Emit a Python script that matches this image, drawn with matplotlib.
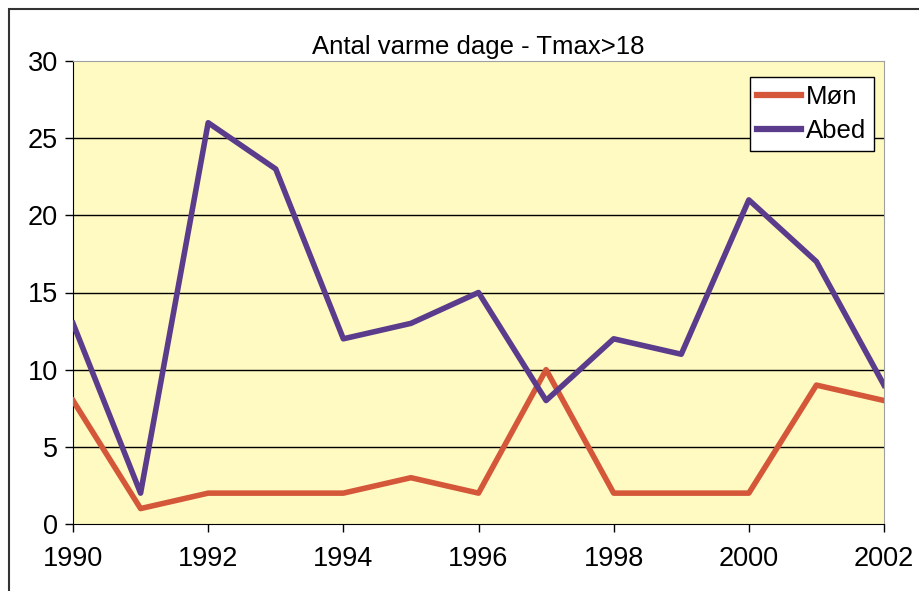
import matplotlib
matplotlib.use("Agg")
import matplotlib.pyplot as plt
from matplotlib.patches import Rectangle

plt.rcParams['font.family'] = ['Liberation Sans', 'DejaVu Sans']

# data
years = [1990, 1991, 1992, 1993, 1994, 1995, 1996, 1997, 1998, 1999, 2000, 2001, 2002]
moen = [8, 1, 2, 2, 2, 3, 2, 10, 2, 2, 2, 9, 8]
abed = [13, 2, 26, 23, 12, 13, 15, 8, 12, 11, 21, 17, 9]
x_ticks = [1990, 1992, 1994, 1996, 1998, 2000, 2002]
y_ticks = [0, 5, 10, 15, 20, 25, 30]

fig = plt.figure(figsize=(9.2, 5.91), dpi=100)
ax = fig.add_axes([73/920, 1 - 524/591, (884 - 73)/920, (524 - 61)/591])

# outer chart frame (only left/top visible in the crop)
fig.patches.append(Rectangle((9/920, -0.1), 1.2, 1 - 9/591 + 0.1, transform=fig.transFigure,
                             fill=False, edgecolor='#333333', linewidth=1.5))

ax.set_facecolor('#FFF9C2')
for y in y_ticks[1:-1]:
    ax.axhline(y, color='black', linewidth=1.0, zorder=1)

ax.plot(years, moen, color='#D4573A', linewidth=4.0, label='Møn', zorder=3)
ax.plot(years, abed, color='#5A3B8C', linewidth=4.0, label='Abed', zorder=3)

ax.set_xlim(1990, 2002)
ax.set_ylim(0, 30)
ax.set_xticks(x_ticks)
ax.set_yticks(y_ticks)
ax.tick_params(axis='both', direction='out', length=6, width=1, labelsize=19.5, colors='black')
ax.tick_params(axis='x', pad=10)
ax.tick_params(axis='y', pad=5)

ax.spines['left'].set_color('black')
ax.spines['bottom'].set_color('black')
ax.spines['top'].set_color('#A0A0A0')
ax.spines['right'].set_color('#A0A0A0')

ax.set_title('Antal varme dage - Tmax>18', fontsize=18.5, pad=5)

leg = ax.legend(loc='upper right', bbox_to_anchor=(0.9877, 0.9655), fontsize=18.5,
                frameon=True, fancybox=False, edgecolor='black', framealpha=1,
                handlelength=1.7, handletextpad=0.2, borderpad=0.3, labelspacing=0.4,
                borderaxespad=0)
leg.get_frame().set_linewidth(1.0)
for line in leg.get_lines():
    line.set_linewidth(4.5)

fig.savefig('out.png', dpi=100)
